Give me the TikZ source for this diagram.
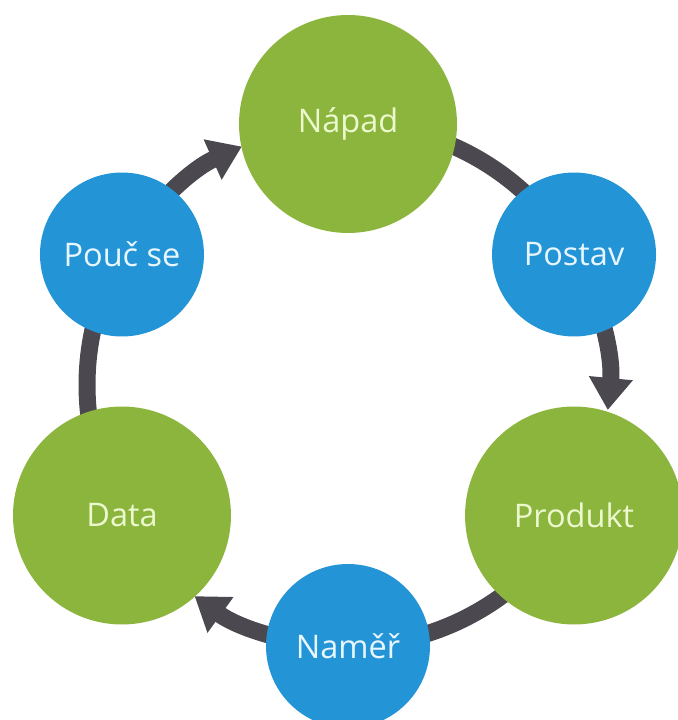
\documentclass[tikz,border=0pt]{standalone}
\usepackage{fontspec}
\setmainfont{Open Sans}
\usetikzlibrary{arrows.meta}
\definecolor{leafgreen}{RGB}{139,181,60}
\definecolor{skyblue}{RGB}{35,148,214}
\definecolor{ringgray}{RGB}{75,72,80}
\definecolor{greentext}{RGB}{236,248,206}
\definecolor{bluetext}{RGB}{232,246,255}
\begin{document}
\begin{tikzpicture}[x=0.02cm,y=0.02cm,
  ringline/.style={line width=0.34cm, draw=ringgray},
  flow/.style={ringline, -{Triangle[width=0.84cm,length=0.64cm]}},
  label/.style={font=\fontsize{18.5}{21}\selectfont},
  bignode/.style={circle, fill=leafgreen, minimum size=4.36cm, inner sep=0pt, text=greentext, label},
  smallnode/.style={circle, fill=skyblue, minimum size=3.28cm, inner sep=0pt, text=bluetext, label}]
  % canvas
  \fill[white] (0,0) rectangle (678,720);
  \useasboundingbox (0,0) rectangle (678,720);
  % centre of the cycle
  \def\R{261}
  \coordinate (O) at (348,335);
  % positions of the six steps on the ring
  \coordinate (pNapad)   at ([shift={(90:\R)}]O);
  \coordinate (pPostav)  at ([shift={(30:\R)}]O);
  \coordinate (pProdukt) at ([shift={(-30:\R)}]O);
  \coordinate (pNamer)   at ([shift={(270:\R)}]O);
  \coordinate (pData)    at ([shift={(210:\R)}]O);
  \coordinate (pPouc)    at ([shift={(150:\R)}]O);
  % ring segments
  \draw[ringline] (pNapad) arc[start angle=90, end angle=30, radius=\R];
  \draw[ringline] (pProdukt) arc[start angle=-30, end angle=-90, radius=\R];
  \draw[ringline] (pData) arc[start angle=210, end angle=150, radius=\R];
  % ring segments with arrow heads
  \draw[flow] (pPostav) arc[start angle=30, end angle=-5.5, radius=\R];
  \draw[flow] (pNamer) arc[start angle=270, end angle=234, radius=\R];
  \draw[flow] (pPouc) arc[start angle=150, end angle=114, radius=\R];
  % steps
  \node[bignode]   (napad)   at (pNapad)   {Nápad};
  \node[smallnode] (postav)  at (pPostav)  {Postav};
  \node[bignode]   (produkt) at (pProdukt) {Produkt};
  \node[smallnode] (namer)   at (pNamer)   {Naměř};
  \node[bignode]   (data)    at (pData)    {Data};
  \node[smallnode] (pouc)    at (pPouc)    {Pouč se};
\end{tikzpicture}
\end{document}
